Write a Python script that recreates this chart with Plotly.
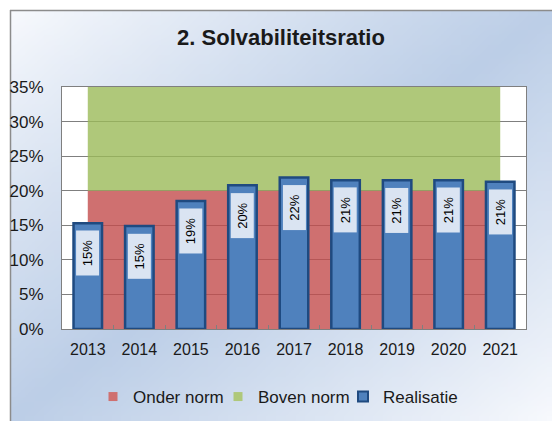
import base64
import struct
import zlib

import plotly.graph_objects as go

# ---------------- data ----------------
years = ["2013", "2014", "2015", "2016", "2017", "2018", "2019", "2020", "2021"]
realisatie = [0.153, 0.149, 0.185, 0.208, 0.219, 0.215, 0.215, 0.215, 0.213]
bar_labels = ["15%", "15%", "19%", "20%", "22%", "21%", "21%", "21%", "21%"]
onder_norm = [0.20, 0.20, 0.20, 0.20, 0.20, 0.20, 0.20, 0.20, 0.20]
boven_norm = [0.15, 0.15, 0.15, 0.15, 0.15, 0.15, 0.15, 0.15, 0.15]
y_ticks = [0, 0.05, 0.10, 0.15, 0.20, 0.25, 0.30, 0.35]

# ---------------- layout constants ----------------
W, H = 552, 421
ML, MR, MT, MB = 62, 26, 87, 92
PW = W - ML - MR
PH = H - MT - MB


def px(x):
    return (x - ML) / PW


def py(y):
    return (H - MB - y) / PH


def gradient_png(w, h):
    c_end = (247, 249, 253)
    c_mid = (188, 206, 231)
    rows = []
    for j in range(h):
        row = bytearray([0])
        for i in range(w):
            t = (i / (w - 1) + j / (h - 1)) / 2
            s = 1 - abs(2 * t - 1)
            s = s ** 0.9
            for k in range(3):
                row.append(int(round(c_end[k] + (c_mid[k] - c_end[k]) * s)))
        rows.append(bytes(row))
    raw = b"".join(rows)

    def chunk(tag, data):
        c = struct.pack(">I", len(data)) + tag + data
        return c + struct.pack(">I", zlib.crc32(tag + data) & 0xFFFFFFFF)

    png = b"\x89PNG\r\n\x1a\n"
    png += chunk(b"IHDR", struct.pack(">IIBBBBB", w, h, 8, 2, 0, 0, 0))
    png += chunk(b"IDAT", zlib.compress(raw, 9))
    png += chunk(b"IEND", b"")
    return "data:image/png;base64," + base64.b64encode(png).decode()


RED = "rgba(195,76,76,0.8)"
GREEN = "rgba(155,186,89,0.8)"
BAR = "#4f81bd"
BAR_LINE = "#1f4a80"
GRID = "#7f7f7f"
FONT = "Liberation Sans, Arial, sans-serif"

fig = go.Figure()

# norm bands (stacked areas) on the base axes
fig.add_trace(go.Scatter(x=years, y=onder_norm, stackgroup="norm", mode="none",
                         fillcolor=RED, name="Onder norm", showlegend=False,
                         hoverinfo="skip"))
fig.add_trace(go.Scatter(x=years, y=boven_norm, stackgroup="norm", mode="none",
                         fillcolor=GREEN, name="Boven norm", showlegend=False,
                         hoverinfo="skip"))

# bars on the overlaying axes (drawn above the bands)
fig.add_trace(go.Bar(x=years, y=realisatie, name="Realisatie",
                     xaxis="x2", yaxis="y2",
                     marker=dict(color=BAR, line=dict(color=BAR_LINE, width=2.5)),
                     showlegend=False))

# legend entries
fig.add_trace(go.Scatter(x=[None], y=[None], mode="markers", name="Onder norm",
                         marker=dict(symbol="square", size=9, color="#cf7070")))
fig.add_trace(go.Scatter(x=[None], y=[None], mode="markers", name="Boven norm",
                         marker=dict(symbol="square", size=9, color="#afc87a")))
fig.add_trace(go.Scatter(x=[None], y=[None], mode="markers", name="Realisatie",
                         marker=dict(symbol="square", size=10, color=BAR,
                                     line=dict(color=BAR_LINE, width=2))))

# data labels
for i, (v, lab) in enumerate(zip(realisatie, bar_labels)):
    fig.add_annotation(x=i, y=v, xref="x2", yref="y2", text=lab, textangle=-90,
                       showarrow=False, xanchor="center", yanchor="top", yshift=-7,
                       width=44, height=22, borderpad=0, bgcolor="#dae4f2",
                       font=dict(family=FONT, size=13, color="#000000"))

common_x = dict(type="category", range=[-0.5, 8.5], fixedrange=True)
common_y = dict(range=[0, 0.35], fixedrange=True)

fig.update_layout(
    width=W, height=H,
    margin=dict(l=ML, r=MR, t=MT, b=MB, pad=0, autoexpand=False),
    paper_bgcolor="#ffffff",
    plot_bgcolor="#ffffff",
    bargap=0.447,
    font=dict(family=FONT, size=16, color="#1a1a1a"),
    title=dict(text="<b>2. Solvabiliteitsratio</b>", x=281 / W, xanchor="center",
               xref="container", y=1 - 37 / H, yanchor="middle", yref="container",
               font=dict(family=FONT, size=22, color="#1a1a1a")),
    showlegend=True,
    legend=dict(orientation="h", x=px(93), xanchor="left", y=py(397),
                yanchor="middle", bgcolor="rgba(0,0,0,0)", itemwidth=30,
                entrywidth=80, entrywidthmode="pixels",
                font=dict(family=FONT, size=17, color="#1a1a1a"),
                traceorder="normal"),
    xaxis=dict(**common_x, showgrid=False,
               showline=True, linecolor=GRID, linewidth=1, mirror=True,
               ticks="inside", tickson="boundaries", ticklen=4, tickcolor=GRID,
               ticklabelstandoff=6, tickfont=dict(size=16, color="#1a1a1a")),
    yaxis=dict(**common_y, tickvals=y_ticks, tickformat=".0%",
               showgrid=True, gridcolor=GRID, gridwidth=1,
               showline=True, linecolor=GRID, linewidth=1, mirror=True,
               ticks="", ticklabelstandoff=14, zeroline=False,
               tickfont=dict(size=17, color="#1a1a1a")),
    xaxis2=dict(**common_x, overlaying="x", visible=False),
    yaxis2=dict(**common_y, overlaying="y", visible=False),
    images=[dict(source=gradient_png(56, 42), xref="paper", yref="paper",
                 x=px(10), y=py(10), sizex=px(W) - px(10), sizey=py(10) - py(H),
                 xanchor="left", yanchor="top", sizing="stretch", layer="below")],
    shapes=[
        dict(type="rect", xref="paper", yref="paper", x0=0, x1=1, y0=0, y1=1,
             fillcolor="#ffffff", line=dict(width=0), layer="below"),
        dict(type="line", xref="paper", yref="paper", x0=px(10.5), x1=px(10.5),
             y0=py(10), y1=py(H + 2), line=dict(color="#8c8c8c", width=1.5),
             layer="below"),
        dict(type="line", xref="paper", yref="paper", x0=px(10), x1=px(W + 2),
             y0=py(10.5), y1=py(10.5), line=dict(color="#8c8c8c", width=1.5),
             layer="below"),
    ],
)

fig.write_html("out.html",
               config={"displayModeBar": False},
               post_script="document.body.style.margin='0';"
                           "document.body.style.overflow='hidden';")
